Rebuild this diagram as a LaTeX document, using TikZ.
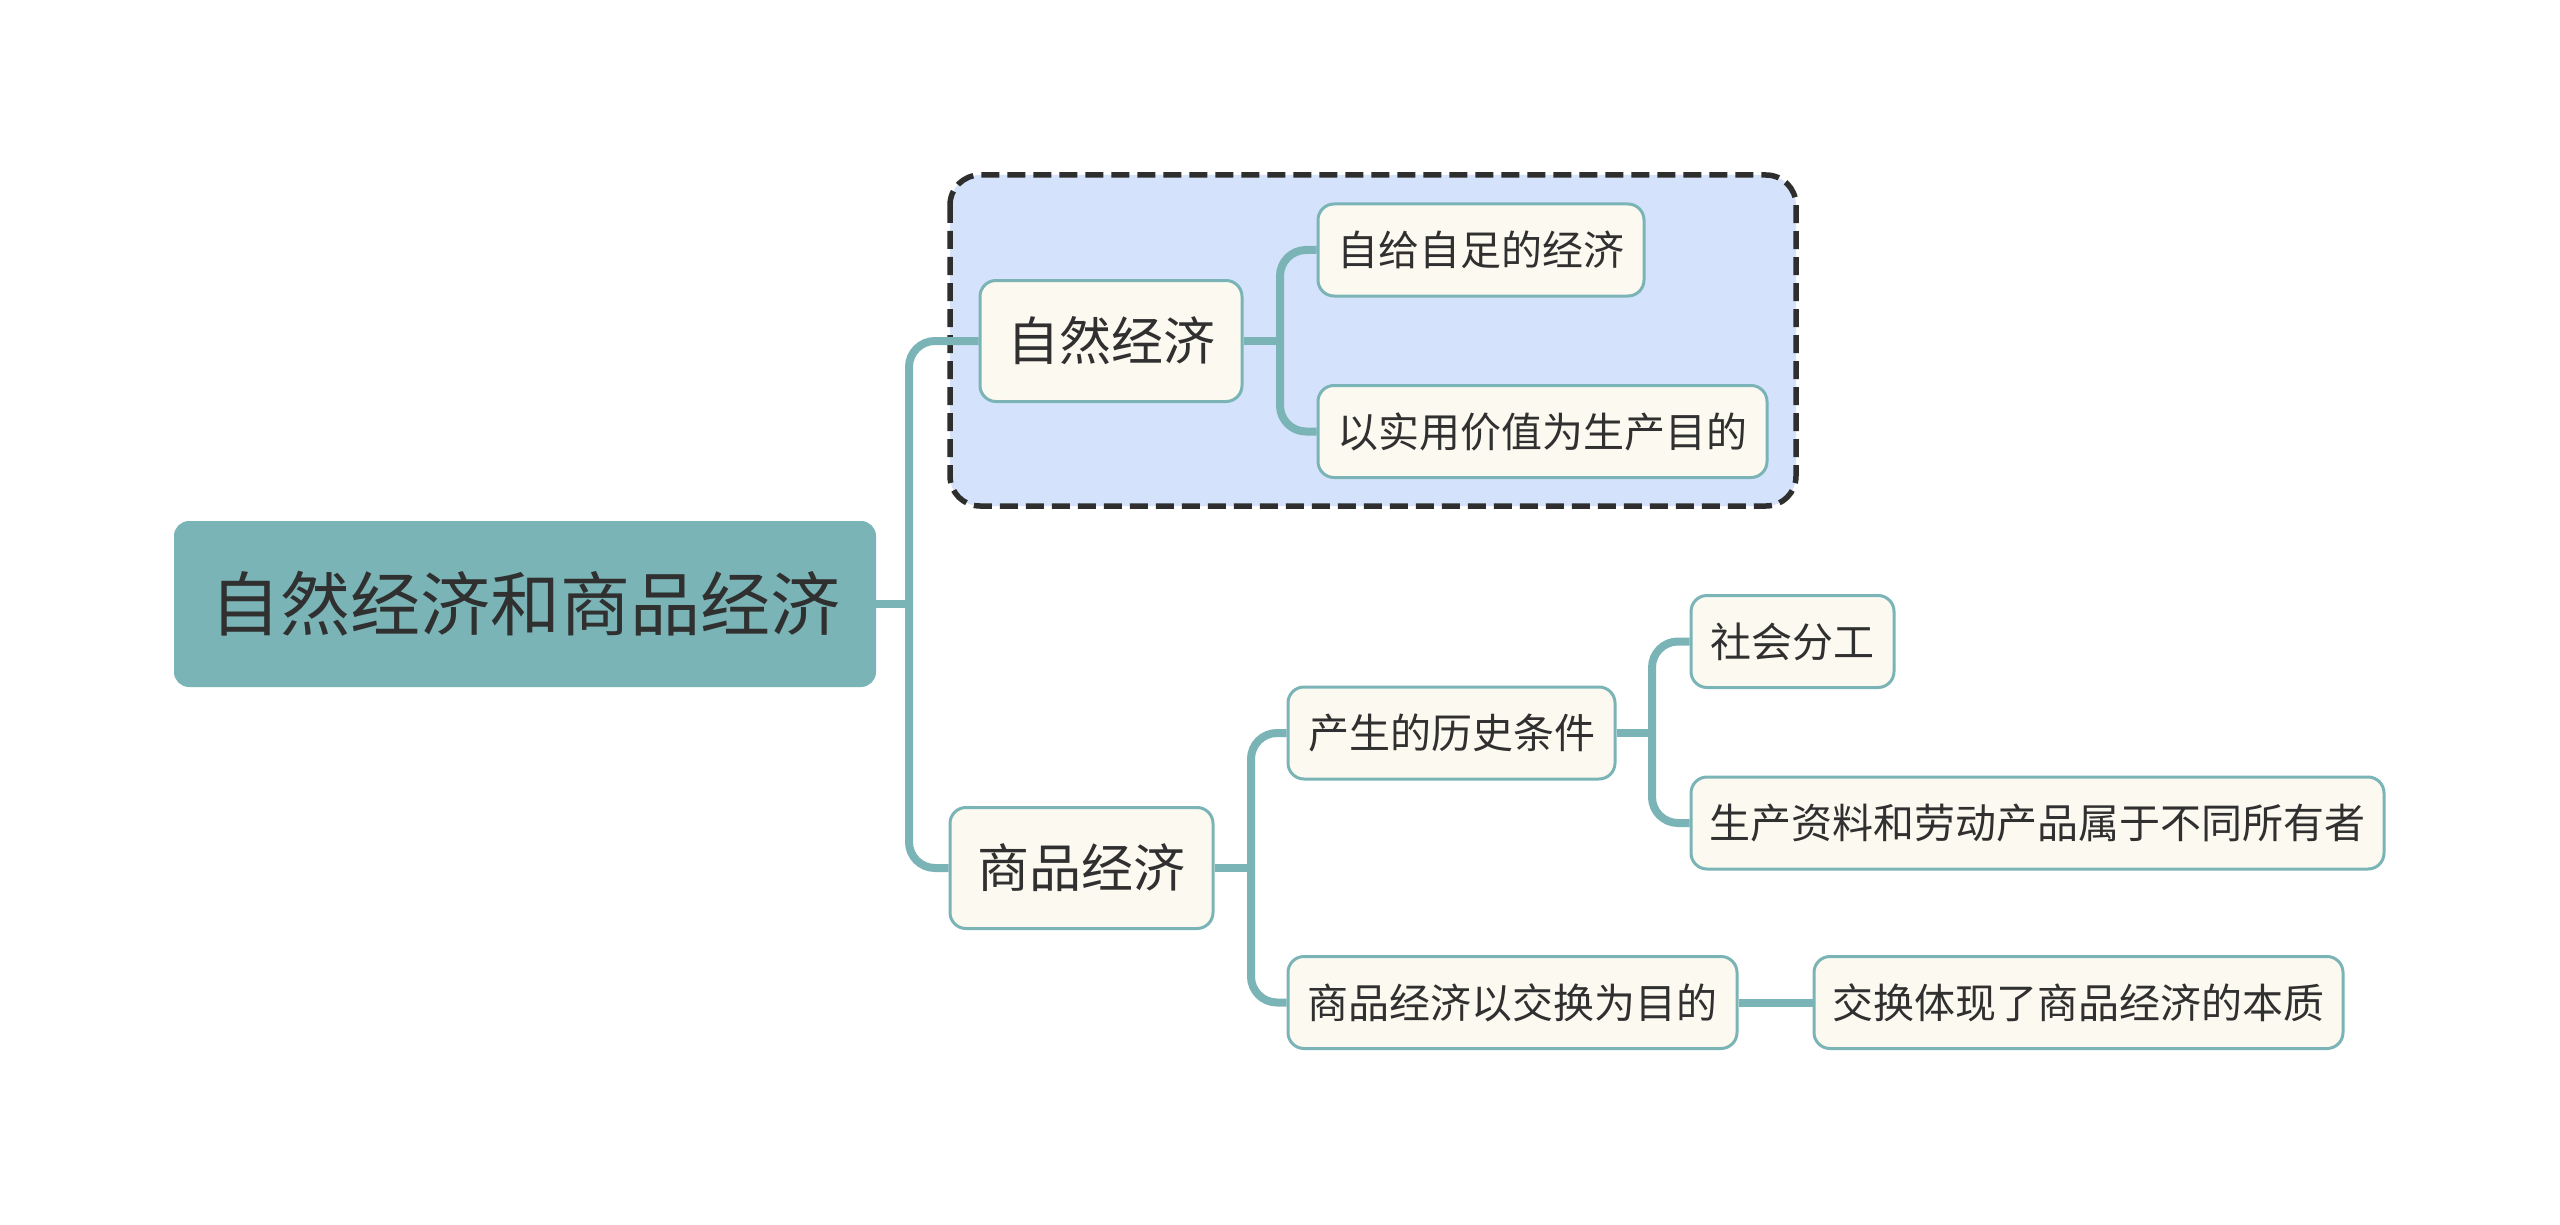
\documentclass[tikz,border=0pt]{standalone}
\usepackage{fontspec}
\setmainfont{Noto Sans CJK SC}
\definecolor{teal1}{HTML}{7AB4B6}
\definecolor{nodefill}{HTML}{FCFAF0}
\definecolor{dashfill}{HTML}{D4E3FB}
\definecolor{dashline}{HTML}{2E2E2E}
\definecolor{txt}{HTML}{303030}
\tikzset{
  box/.style={draw=teal1, line width=3pt, fill=nodefill, rounded corners=16pt, inner sep=0pt, text=txt},
  leaf/.style={box, minimum height=92pt, font=\fontsize{41}{41}\selectfont},
  mid/.style={box, minimum height=121pt, font=\fontsize{52}{52}\selectfont},
  rootbox/.style={draw=teal1, line width=2pt, fill=teal1, rounded corners=14pt, inner sep=0pt, text=txt, minimum width=700pt, minimum height=164pt, font=\fontsize{70}{70}\selectfont},
  conn/.style={draw=teal1, line width=8pt, rounded corners=26pt},
  group/.style={draw=dashline, fill=dashfill, line width=5.5pt, dash pattern=on 18pt off 8pt, rounded corners=30pt}
}
\begin{document}
\begin{tikzpicture}[x=1pt,y=-1pt]
\useasboundingbox (0,0) rectangle (2560,1225);
\fill[white] (0,0) rectangle (2560,1225);
\draw[group] (950,175) rectangle (1796,506);
\node[rootbox] (root) at (525,604) {自然经济和商品经济};
\node[mid, minimum width=262pt] (zr) at (1111,341) {自然经济};
\node[mid, minimum width=263pt] (sp) at (1081.5,868) {商品经济};
\node[leaf, minimum width=326pt] (zg) at (1481,250) {自给自足的经济};
\node[leaf, minimum width=449pt] (sy) at (1542.5,431.5) {以实用价值为生产目的};
\node[leaf, minimum width=327pt] (cs) at (1451.5,733) {产生的历史条件};
\node[leaf, minimum width=449pt] (jh) at (1512.5,1002.5) {商品经济以交换为目的};
\node[leaf, minimum width=203pt] (sh) at (1792.5,641.5) {社会分工};
\node[leaf, minimum width=693pt] (sc) at (2037.5,823) {生产资料和劳动产品属于不同所有者};
\node[leaf, minimum width=529pt] (tx) at (2078.5,1002.5) {交换体现了商品经济的本质};
\coordinate (j1) at (909,604);
\coordinate (j2) at (1280,341);
\coordinate (j3) at (1251,868);
\coordinate (j4) at (1652,733);
\draw[conn] (root.east) -- (j1);
\draw[conn] (j1) |- (zr.west);
\draw[conn] (j1) |- (sp.west);
\draw[conn] (zr.east) -- (j2);
\draw[conn] (j2) |- (zg.west);
\draw[conn] (j2) |- (sy.west);
\draw[conn] (sp.east) -- (j3);
\draw[conn] (j3) |- (cs.west);
\draw[conn] (j3) |- (jh.west);
\draw[conn] (cs.east) -- (j4);
\draw[conn] (j4) |- (sh.west);
\draw[conn] (j4) |- (sc.west);
\draw[conn] (jh.east) -- (tx.west);
\end{tikzpicture}
\end{document}
